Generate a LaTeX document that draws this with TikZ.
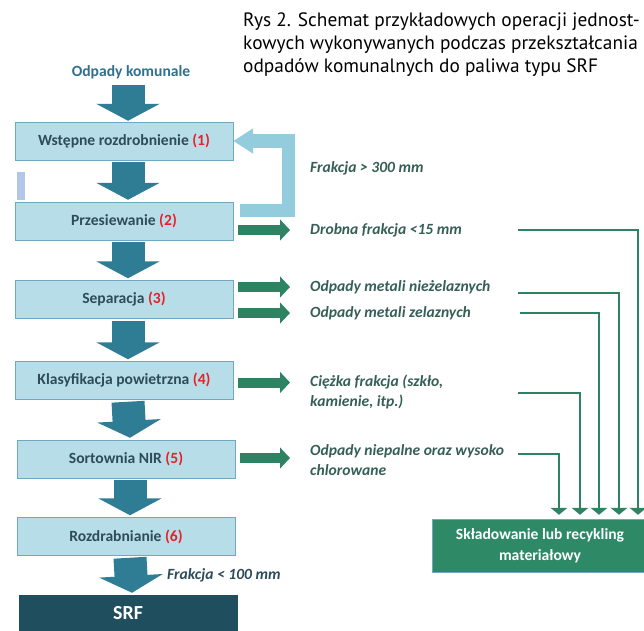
\documentclass[tikz,border=0pt]{standalone}
\usepackage{fontspec}
\setmainfont{Carlito}
\newfontfamily\capfont{PT Sans}
\usetikzlibrary{arrows.meta,calc}

\definecolor{boxfill}{HTML}{B7DEE8}
\definecolor{boxline}{HTML}{6FA8C0}
\definecolor{boxtext}{HTML}{2E4B5A}
\definecolor{numred}{HTML}{E8202A}
\definecolor{downblue}{HTML}{2F7C95}
\definecolor{backblue}{HTML}{93CCDD}
\definecolor{sidegreen}{HTML}{2E8462}
\definecolor{labelgreen}{HTML}{355F55}
\definecolor{srfdark}{HTML}{1F4E5E}
\definecolor{storegreen}{HTML}{2E8A66}
\definecolor{barblue}{HTML}{B4C6E7}
\definecolor{inblue}{HTML}{2F6F8F}

\newcommand\nr[1]{\textcolor{numred}{(#1)}}

\tikzset{
  stage/.style={draw=boxline, fill=boxfill, text=boxtext, inner sep=0pt,
    font=\bfseries\fontsize{13.3}{16}\selectfont,
    minimum width=6.54cm, minimum height=1.14cm},
  label/.style={anchor=west, text=labelgreen, align=left, inner sep=0pt,
    font=\bfseries\itshape\fontsize{13.3}{17}\selectfont},
  down/.style={draw=downblue, line width=0.99cm,
    -{Triangle[length=0.51cm, width=1.89cm]}},
  side/.style={draw=sidegreen, line width=0.3cm,
    -{Triangle[length=0.3cm, width=0.62cm]}},
  back/.style={draw=backblue, line width=0.4cm, line join=miter,
    -{Triangle[length=0.6cm, width=0.72cm]}},
  feed/.style={draw=sidegreen, line width=0.06cm,
    -{Triangle[length=0.21cm, width=0.5cm]}}
}

\begin{document}
\begin{tikzpicture}[x=0.03cm, y=-0.03cm]
\useasboundingbox (0,0) rectangle (644,630);

% caption
\node[anchor=north west, inner sep=0pt, align=left,
  font=\capfont\fontsize{16.5}{20}\selectfont] (cap) at (243,12)
  {Rys 2. Schemat przykładowych operacji jednost-\\
   kowych wykonywanych podczas przekształcania\\
   odpadów komunalnych do paliwa typu SRF};

% process chain
\node[text=inblue, font=\bfseries\fontsize{13.3}{16}\selectfont,
  inner sep=0pt] (in) at (131,72) {Odpady komunale};
\node[stage] (b1) at (124,141) {Wstępne rozdrobnienie \nr{1}};
\node[stage] (b2) at (124,221) {Przesiewanie \nr{2}};
\node[stage] (b3) at (124,299.5) {Separacja \nr{3}};
\node[stage] (b4) at (124,380.5) {Klasyfikacja powietrzna \nr{4}};
\node[stage] (b5) at (126,459) {Sortownia NIR \nr{5}};
\node[stage] (b6) at (126,536.5) {Rozdrabnianie \nr{6}};
\node[stage, fill=srfdark, draw=srfdark, text=white, minimum height=1.11cm,
  font=\bfseries\fontsize{17}{20}\selectfont] (srf) at (128,613.5) {SRF};

\fill[barblue] (17,172) rectangle (25,200);

\draw[down] ($(in.south)+(-3,6)$) -- ($(b1.north)+(4,-1)$);
\foreach \a/\b in {b1/b2, b2/b3, b3/b4, b4/b5, b5/b6, b6/srf}
  \draw[down] ($(\a.south)+(4,2)$) -- ($(\b.north)+(4,-2)$);

\node[font=\bfseries\itshape\fontsize{13.3}{16}\selectfont, text=boxtext,
  anchor=west, inner sep=0pt] (out) at (167,575) {Frakcja < 100 mm};

% side streams
\node[label] (l1) at (310,168) {Frakcja > 300 mm};
\node[label] (l2) at (310,230) {Drobna frakcja <15 mm};
\node[label] (l3) at (310,287) {Odpady metali nieżelaznych};
\node[label] (l3b) at (310,313) {Odpady metali zelaznych};
\node[label] (l4) at (310,392) {Ciężka frakcja (szkło,\\kamienie, itp.)};
\node[label] (l5) at (310,460) {Odpady niepalne oraz wysoko\\chlorowane};

\draw[back] ($(b2.north east)+(7,9)$) -| ($(b1.east)+(55,0)$) -- (b1.east);

\draw[side] ($(b2.east |- l2.west)+(5,0)$) -- ($(l2.west)+(-20,0)$);
\draw[side] ($(b3.east |- l3.west)+(5,0)$) -- ($(l3.west)+(-20,0)$);
\draw[side] ($(b3.east |- l3b.west)+(5,0)$) -- ($(l3b.west)+(-20,0)$);
\draw[side] ($(b4.east)+(5,2)$) -- ($(b4.east -| l4.west)+(-20,2)$);
\draw[side] ($(b5.east)+(5,-1)$) -- ($(b5.east -| l5.west)+(-20,-1)$);

% storage
\node[fill=storegreen, draw=boxline, text=white, align=center, inner sep=0pt,
  minimum width=6.48cm, minimum height=1.59cm,
  font=\bfseries\fontsize{13.3}{18}\selectfont] (store) at (540,545.5)
  {Składowanie lub recykling\\materiałowy};

\coordinate (s1) at (518,230);
\coordinate (s2) at (518,293);
\coordinate (s3) at (520,313);
\coordinate (s4) at (518,393);
\coordinate (s5) at (518,454);
\foreach \s/\dx in {s1/98, s2/79, s3/59, s4/40, s5/19}
  \draw[feed] (\s) -| ($(store.north)+(\dx,-4)$);
\end{tikzpicture}
\end{document}
